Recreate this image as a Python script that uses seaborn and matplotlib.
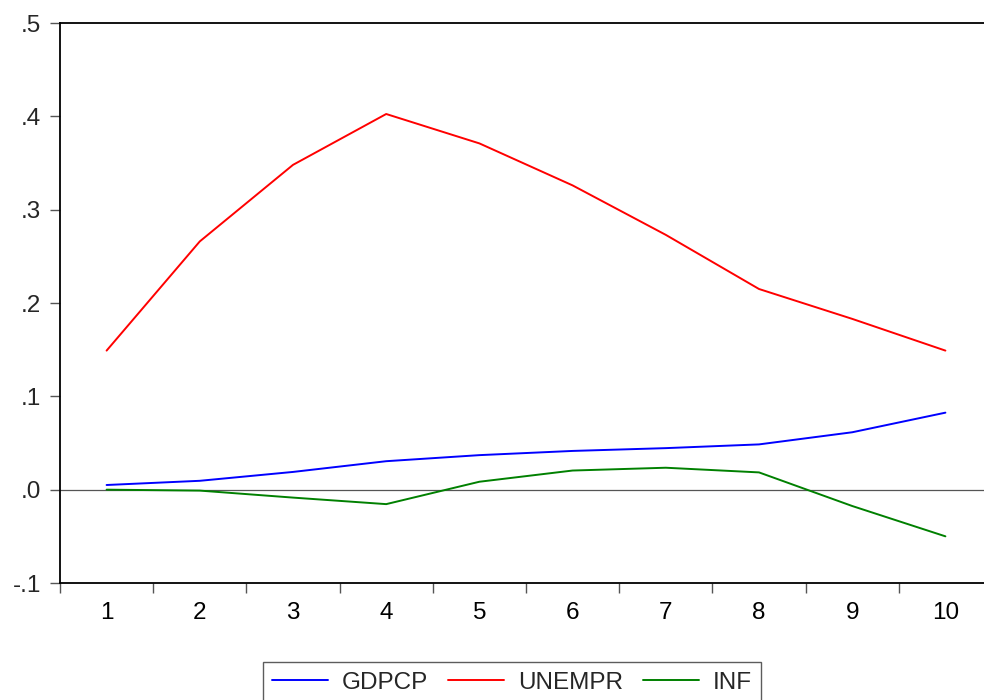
import matplotlib
matplotlib.use("Agg")
import matplotlib.pyplot as plt
import seaborn as sns
import pandas as pd
import numpy as np

periods = [1, 2, 3, 4, 5, 6, 7, 8, 9, 10]
gdpcp = [0.005, 0.0095, 0.019, 0.0305, 0.037, 0.0415, 0.0445, 0.0485, 0.0615, 0.0825]
unempr = [0.149, 0.266, 0.348, 0.4025, 0.371, 0.326, 0.273, 0.215, 0.183, 0.149]
inf = [0.0, -0.001, -0.0085, -0.0155, 0.0085, 0.0205, 0.0235, 0.0185, -0.0175, -0.050]
series_names = ["GDPCP", "UNEMPR", "INF"]
colors = ["#0000ff", "#ff0000", "#008000"]
yticks = [-0.1, 0.0, 0.1, 0.2, 0.3, 0.4, 0.5]
ytick_labels = ["-.1", ".0", ".1", ".2", ".3", ".4", ".5"]

df = pd.DataFrame({
    "period": periods * 3,
    "value": gdpcp + unempr + inf,
    "series": sum([[n] * len(periods) for n in series_names], []),
})

sns.set_style("white")
plt.rcParams["font.family"] = ["Liberation Sans", "DejaVu Sans"]

fig = plt.figure(figsize=(9.84, 7.0), dpi=100)
ax = fig.add_axes([60 / 984, 1 - 583 / 700, (992 - 60) / 984, (583 - 23) / 700])

ax.axhline(0, color="#555555", lw=0.9, zorder=1)
sns.lineplot(data=df, x="period", y="value", hue="series", hue_order=series_names,
             palette=colors, linewidth=1.4, ax=ax, legend=True, zorder=3)

ax.set_xlim(0.5, 10.5)
ax.set_ylim(-0.1, 0.5)
ax.set_yticks(yticks)
ax.set_yticklabels(ytick_labels, fontsize=17.5)
ax.set_xticks(periods)
ax.set_xticklabels([str(p) for p in periods], fontsize=17.5)
ax.set_xticks(np.arange(0.5, 11.0, 1.0), minor=True)
ax.tick_params(axis="x", which="both", bottom=True)
ax.tick_params(axis="y", which="both", left=True)
ax.tick_params(axis="x", which="major", length=0, pad=14, colors="black")
ax.tick_params(axis="x", which="minor", length=7.5, width=1, color="#555555", direction="out")
ax.tick_params(axis="y", which="major", length=7.5, width=1, color="#555555", direction="out", pad=6)
ax.set_xlabel("")
ax.set_ylabel("")
for s in ax.spines.values():
    s.set_color("black")
    s.set_linewidth(1.3)

leg = ax.legend(loc="upper center", ncol=3, frameon=True,
                fontsize=17.5, handlelength=2.3, columnspacing=0.85, handletextpad=0.55,
                fancybox=False, edgecolor="#333333", borderpad=0.4, borderaxespad=0)
leg.get_frame().set_linewidth(1.0)
leg.set_bbox_to_anchor((512 / 984, 1 - 662 / 700), transform=fig.transFigure)

fig.savefig("out.png", dpi=100)
